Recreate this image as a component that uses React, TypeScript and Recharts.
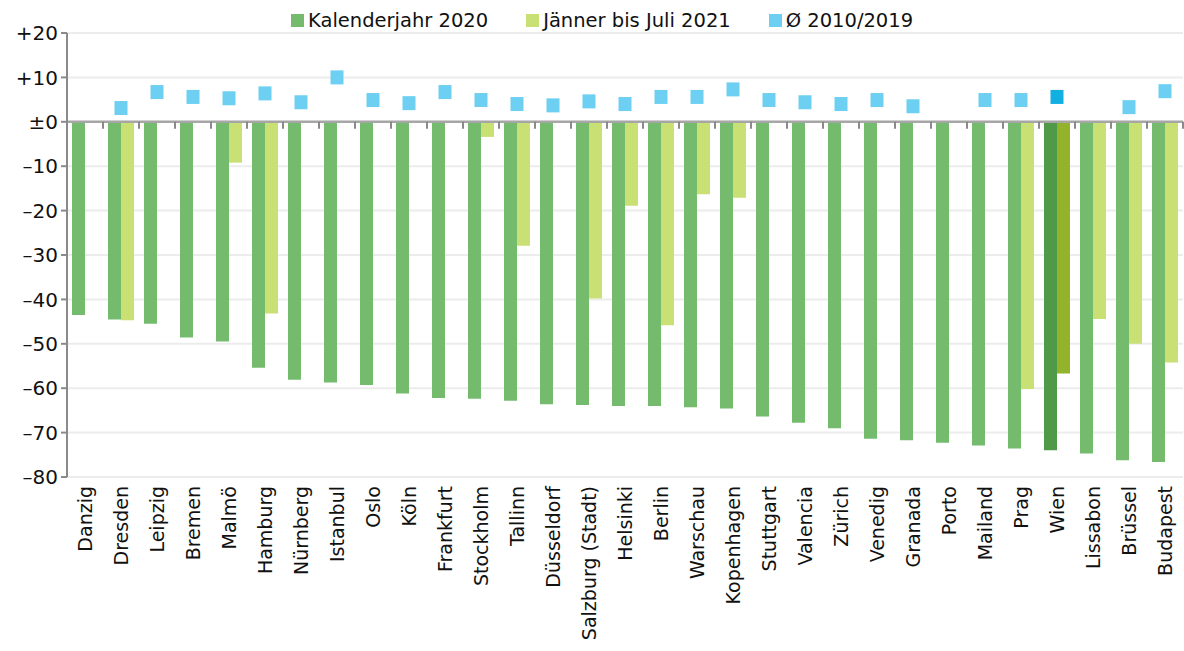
import { ComposedChart, Bar, Line, XAxis, YAxis, CartesianGrid, ReferenceLine, Cell } from 'recharts'

const cities = [
  'Danzig', 'Dresden', 'Leipzig', 'Bremen', 'Malmö', 'Hamburg', 'Nürnberg', 'Istanbul', 'Oslo', 'Köln',
  'Frankfurt', 'Stockholm', 'Tallinn', 'Düsseldorf', 'Salzburg (Stadt)', 'Helsinki', 'Berlin', 'Warschau',
  'Kopenhagen', 'Stuttgart', 'Valencia', 'Zürich', 'Venedig', 'Granada', 'Porto', 'Mailand', 'Prag', 'Wien',
  'Lissabon', 'Brüssel', 'Budapest',
]

const year2020 = [
  -43.5, -44.5, -45.5, -48.6, -49.5, -55.4, -58.1, -58.7, -59.3, -61.2,
  -62.2, -62.4, -62.8, -63.6, -63.8, -64.0, -64.0, -64.3,
  -64.6, -66.4, -67.8, -69.0, -71.4, -71.7, -72.3, -72.9, -73.6, -74.0,
  -74.7, -76.2, -76.6,
]

const janJul2021 = [
  null, -44.7, null, null, -9.2, -43.2, null, null, null, null,
  null, -3.4, -27.9, null, -39.8, -18.9, -45.8, -16.3,
  -17.1, null, null, null, null, null, null, null, -60.2, -56.7,
  -44.4, -50.0, -54.2,
]

const avg2010to2019 = [
  null, 3.1, 6.7, 5.6, 5.3, 6.4, 4.4, 10.0, 4.9, 4.2,
  6.7, 4.9, 4.0, 3.7, 4.6, 4.0, 5.6, 5.6,
  7.3, 4.9, 4.4, 4.0, 4.9, 3.5, null, 4.9, 4.9, 5.6,
  null, 3.3, 6.9,
]

const yTicks = [20, 10, 0, -10, -20, -30, -40, -50, -60, -70, -80]

const highlight = 'Wien'

const COLORS = {
  y2020: '#74bb6e',
  y2021: '#c8e074',
  avg: '#6dd0f2',
  y2020Hi: '#4e9a48',
  y2021Hi: '#92b32b',
  avgHi: '#12afe3',
}

const FONT = '"DejaVu Sans", sans-serif'

const data = cities.map((city, i) => ({
  city,
  y2020: year2020[i],
  y2021: janJul2021[i],
  avg: avg2010to2019[i],
}))

function fmtY(v: number) {
  if (v > 0) return `+${v}`
  if (v === 0) return '±0'
  return `–${-v}`
}

function CityTick(props: any) {
  const { x, y, payload } = props
  return (
    <text
      x={x}
      y={y}
      transform={`rotate(-90, ${x}, ${y})`}
      textAnchor="end"
      dominantBaseline="central"
      fill="#111"
      fontSize={19}
      fontFamily={FONT}
    >
      {payload.value}
    </text>
  )
}

function ZeroAxis(props: any) {
  const { x1, x2, y1 } = props
  const n = cities.length
  const step = (x2 - x1) / n
  const ticks = []
  for (let i = 1; i <= n; i++) {
    const tx = x1 + i * step
    ticks.push(<line key={i} x1={tx} x2={tx} y1={y1} y2={y1 + 7} stroke="#8a8a8a" strokeWidth={2} />)
  }
  return (
    <g>
      <line x1={x1} x2={x2} y1={y1} y2={y1} stroke="#a6a6a6" strokeWidth={2.5} />
      {ticks}
    </g>
  )
}

function AvgDot(props: any) {
  const { cx, cy, index, payload } = props
  if (cx == null || cy == null || payload.avg == null) return <g key={`d${index}`} />
  const fill = payload.city === highlight ? COLORS.avgHi : COLORS.avg
  return <rect key={`d${index}`} x={cx - 6.5} y={cy - 7} width={13} height={14} fill={fill} />
}

const legendItems = [
  { label: 'Kalenderjahr 2020', color: COLORS.y2020 },
  { label: 'Jänner bis Juli 2021', color: COLORS.y2021 },
  { label: 'Ø 2010/2019', color: COLORS.avg },
]

export default function App() {
  return (
    <div style={{ position: 'absolute', left: 0, top: 0, width: 1184, height: 651, background: '#fff', overflow: 'hidden' }}>
      <div
        style={{
          position: 'absolute',
          top: 9,
          left: 291,
          display: 'flex',
          gap: 38,
          fontFamily: FONT,
          fontSize: 19.5,
          color: '#111',
          whiteSpace: 'nowrap',
        }}
      >
        {legendItems.map((it) => (
          <div key={it.label} style={{ display: 'flex', alignItems: 'center', gap: 4 }}>
            <span style={{ width: 13, height: 13, background: it.color, display: 'inline-block' }} />
            <span>{it.label}</span>
          </div>
        ))}
      </div>
      <ComposedChart
        width={1184}
        height={651}
        data={data}
        margin={{ top: 33, right: 1, bottom: 0, left: 0 }}
        barGap={0}
        barCategoryGap={5}
      >
        <CartesianGrid vertical={false} stroke="#ececec" strokeWidth={2} />
        <XAxis
          dataKey="city"
          interval={0}
          axisLine={false}
          tickLine={false}
          height={174}
          tick={<CityTick />}
          tickMargin={3}
        />
        <YAxis
          domain={[-80, 20]}
          ticks={yTicks}
          width={67}
          tickFormatter={fmtY}
          axisLine={{ stroke: '#8a8a8a', strokeWidth: 2 }}
          tickLine={{ stroke: '#8a8a8a', strokeWidth: 2 }}
          tickSize={6}
          tickMargin={3}
          tick={{ fill: '#111', fontSize: 20, fontFamily: FONT }}
          allowDataOverflow
        />
        <Bar dataKey="y2020" barSize={13} isAnimationActive={false}>
          {data.map((d, i) => (
            <Cell key={i} fill={d.city === highlight ? COLORS.y2020Hi : COLORS.y2020} />
          ))}
        </Bar>
        <Bar dataKey="y2021" barSize={13} isAnimationActive={false}>
          {data.map((d, i) => (
            <Cell key={i} fill={d.city === highlight ? COLORS.y2021Hi : COLORS.y2021} />
          ))}
        </Bar>
        <ReferenceLine y={0} shape={<ZeroAxis />} />
        <Line
          dataKey="avg"
          stroke="none"
          dot={AvgDot}
          activeDot={false}
          legendType="none"
          isAnimationActive={false}
        />
      </ComposedChart>
    </div>
  )
}
